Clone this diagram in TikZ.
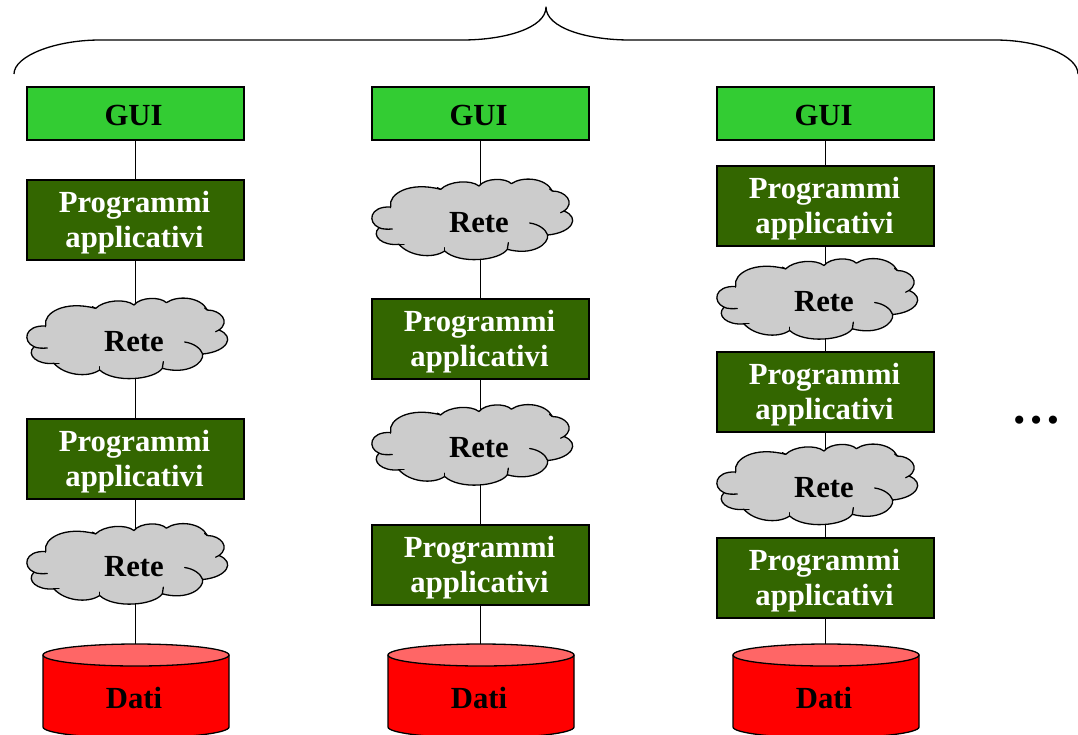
\documentclass[tikz,border=0pt]{standalone}
\usepackage{fontspec}
\setmainfont{Liberation Serif}
\usetikzlibrary{backgrounds}
\definecolor{guigreen}{HTML}{33CC33}
\definecolor{proggreen}{HTML}{336600}
\definecolor{cloudgrey}{HTML}{CCCCCC}
\definecolor{dbtop}{HTML}{FF6666}
\newcommand{\guitext}{\hspace*{-4pt}\raisebox{-2pt}[\height][\depth]{GUI}}
\newcommand{\progtext}{\hspace*{-2pt}\raisebox{-3pt}[\height][\depth]{\setlength{\tabcolsep}{0pt}\begin{tabular}{c}Programmi\\applicativi\end{tabular}}}
\tikzset{
  base/.style={font=\bfseries\fontsize{30.7}{35}\selectfont,align=center,inner sep=0pt},
  guibox/.style={base,draw=black,line width=1.4pt,fill=guigreen,minimum width=217pt,minimum height=53pt},
  progbox/.style={base,draw=black,line width=1.4pt,fill=proggreen,text=white,minimum width=217pt,minimum height=80pt},
  retelabel/.style={base,text=black},
  datilabel/.style={base,text=black},
  link/.style={draw=black,line width=1.5pt},
  outline/.style={draw=black,line width=1.3pt,line join=round,line cap=round},
  cloudpic/.pic={
    \begin{scope}[scale=1/3,shift={(-385,-180)}]
      \path[outline,fill=cloudgrey]
        (135,135) .. controls (128,100) and (190,60) .. (285,85)
        .. controls (310,60) and (375,55) .. (400,75)
        .. controls (420,50) and (480,50) .. (497,68)
        .. controls (530,45) and (600,50) .. (620,90)
        .. controls (660,90) and (690,125) .. (655,150)
        .. controls (705,170) and (680,215) .. (606,222)
        .. controls (610,250) and (560,285) .. (485,265)
        .. controls (460,300) and (340,310) .. (297,270)
        .. controls (260,295) and (190,285) .. (160,250)
        .. controls (110,255) and (75,225) .. (100,200)
        .. controls (65,185) and (70,135) .. (135,138) -- cycle;
      \path[outline] (552,186) .. controls (580,190) and (600,205) .. (606,222);
      \path[outline] (485,265) -- (488,245);
      \path[outline] (297,270) -- (297,260);
      \path[outline] (160,250) -- (175,250);
      \path[outline] (100,200) .. controls (110,205) and (125,205) .. (140,204);
      \path[outline] (135,135) -- (135,140);
      \path[outline] (285,85) -- (275,80);
      \path[outline] (620,90) -- (612,84);
      \path[outline] (655,150) -- (645,155);
    \end{scope}
  },
  dbpic/.pic={
    \path[outline,fill=red] (-93,-61) -- (-93,11) arc[start angle=180,end angle=360,x radius=93,y radius=-11] -- (93,-61) -- cycle;
    \path[outline,fill=dbtop] (0,-61) ellipse[x radius=93,y radius=11];
  }
}
\begin{document}
\begin{tikzpicture}[x=1pt,y=-1pt]
\useasboundingbox (0,0) rectangle (1078,734);
% brace
\coordinate (braceL) at (14,74);
\coordinate (braceT) at (546,7);
\coordinate (braceR) at (1078,74);
\path[outline,line cap=butt] (braceL) .. controls (14,56) and (55,40) .. (100,40)
  -- (462,40) .. controls (505,40) and (546,28) .. (braceT)
  .. controls (546,28) and (587,40) .. (630,40)
  -- (995,40) .. controls (1040,40) and (1078,56) .. (braceR);
% column 1
\node[guibox] (g1) at (135.5,113.5) {\guitext};
\node[progbox] (p11) at (135.5,220) {\progtext};
\pic at (129,340) {cloudpic};
\node[retelabel] (c11) at (134,341.5) {Rete};
\node[progbox] (p12) at (135.5,459) {\progtext};
\pic at (129,565.5) {cloudpic};
\node[retelabel] (c12) at (134,567) {Rete};
\pic at (136,716) {dbpic};
\coordinate (t1) at (136,645);
\node[datilabel] (d1) at (134,698) {Dati};
% column 2
\node[guibox] (g2) at (480.5,113.5) {\guitext};
\pic at (474,221) {cloudpic};
\node[retelabel] (c21) at (479,222.5) {Rete};
\node[progbox] (p21) at (480.5,339) {\progtext};
\pic at (474,446.5) {cloudpic};
\node[retelabel] (c22) at (479,448) {Rete};
\node[progbox] (p22) at (480.5,565) {\progtext};
\pic at (481,716) {dbpic};
\coordinate (t2) at (481,645);
\node[datilabel] (d2) at (479,698) {Dati};
% column 3
\node[guibox] (g3) at (825.5,113.5) {\guitext};
\node[progbox] (p31) at (825.5,206) {\progtext};
\pic at (819,300.5) {cloudpic};
\node[retelabel] (c31) at (824,302) {Rete};
\node[progbox] (p32) at (825.5,392) {\progtext};
\pic at (819,486) {cloudpic};
\node[retelabel] (c32) at (824,487.5) {Rete};
\node[progbox] (p33) at (825.5,578) {\progtext};
\pic at (826,716) {dbpic};
\coordinate (t3) at (826,645);
\node[datilabel] (d3) at (824,698) {Dati};
% ellipsis
\node[base,font=\bfseries\fontsize{50}{50}\selectfont] (dots) at (1036,420) {…};
% connectors
\begin{pgfonlayer}{background}
\path[link] (g1) -- (p11) (p11) -- (g1 |- c11) (g1 |- c11) -- (p12) (p12) -- (g1 |- c12) (g1 |- c12) -- (g1 |- t1);
\path[link] (g2) -- (g2 |- c21) (g2 |- c21) -- (p21) (p21) -- (g2 |- c22) (g2 |- c22) -- (p22) (p22) -- (g2 |- t2);
\path[link] (g3) -- (p31) (p31) -- (g3 |- c31) (g3 |- c31) -- (p32) (p32) -- (g3 |- c32) (g3 |- c32) -- (p33) (p33) -- (g3 |- t3);
\end{pgfonlayer}
\end{tikzpicture}
\end{document}
